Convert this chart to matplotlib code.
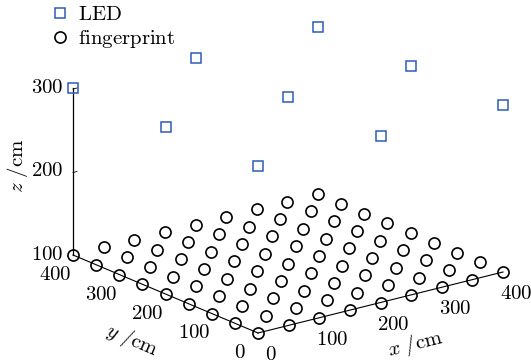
import matplotlib
matplotlib.use("Agg")
import matplotlib.pyplot as plt
import numpy as np

plt.rcParams['mathtext.fontset'] = 'cm'

# fingerprint grid and LED positions, cm
fp_x = [0, 50, 100, 150, 200, 250, 300, 350, 400]
fp_y = [0, 50, 100, 150, 200, 250, 300, 350, 400]
fp_z = 100
led_x = [0, 200, 400]
led_y = [0, 200, 400]
led_z = 300

x_ticks = [0, 100, 200, 300, 400]
y_ticks = [0, 100, 200, 300, 400]
z_ticks = [100, 200, 300]

# oblique view: pixels per cm along each axis
ORIGIN = (258.0, 333.0)
EX = (245/400., -61/400.)
EY = (-185/400., -78/400.)
EZ = -167/200.
Z0 = 100


def proj(x, y, z):
	x = np.asarray(x, float)
	y = np.asarray(y, float)
	z = np.asarray(z, float)
	px = ORIGIN[0] + x*EX[0] + y*EY[0]
	py = ORIGIN[1] + x*EX[1] + y*EY[1] + (z - Z0)*EZ
	return px, py


fig = plt.figure(figsize=(5.31, 3.63), dpi=100)
ax = fig.add_axes([0, 0, 1, 1])
ax.set_xlim(0, 531)
ax.set_ylim(363, 0)
ax.axis('off')

FS = 15

# axes lines
px, py = proj([0, 400], [0, 0], [Z0, Z0])
ax.plot(px, py, 'k-', lw=0.8, zorder=1)
px, py = proj([0, 0], [0, 400], [Z0, Z0])
ax.plot(px, py, 'k-', lw=0.8, zorder=1)
px, py = proj([0, 0], [400, 400], [Z0, 300])
ax.plot(px, py, 'k-', lw=0.9, zorder=1)

# z ticks
for z in z_ticks:
	px, py = proj(0, 400, z)
	if z > Z0:
		ax.plot([px, px + 4], [py + 1, py], 'k-', lw=0.6)
	ax.text(px - 10, py - 1, "$%d$" % z, ha='right', va='center', fontsize=FS)

for x in x_ticks:
	px, py = proj(x, 0, Z0)
	ax.text(px + 13, py + 21, "$%d$" % x, ha='center', va='center', fontsize=FS)

for y in y_ticks:
	px, py = proj(0, y, Z0)
	ax.text(px - 18, py + 19, "$%d$" % y, ha='center', va='center', fontsize=FS)

ax.text(17, 166, r"$z\ /\mathrm{cm}$", rotation=90, ha='center', va='center', fontsize=FS)
ax.text(132, 340, r"$y\ /\mathrm{cm}$", rotation=-22.9, ha='center', va='center', fontsize=FS)
ax.text(415, 344, r"$x\ /\mathrm{cm}$", rotation=14, ha='center', va='center', fontsize=FS)

# data
gx, gy = np.meshgrid(fp_x, fp_y)
px, py = proj(gx.ravel(), gy.ravel(), np.full(gx.size, fp_z))
ax.plot(px, py, 'o', ms=8, mfc='none', mec='black', mew=1.2, ls='none',
	label=r"$\mathrm{fingerprint}$", zorder=3)

lx, ly = np.meshgrid(led_x, led_y)
px, py = proj(lx.ravel(), ly.ravel(), np.full(lx.size, led_z))
ax.plot(px, py, 's', ms=6.5, mfc='none', mec='#2d5bb8', mew=1.1, ls='none',
	label=r"$\mathrm{LED}$", zorder=3)

h, l = ax.get_legend_handles_labels()
ax.legend(h[::-1], l[::-1], loc='upper left', bbox_to_anchor=(0.06, 1.04),
	frameon=False, fontsize=FS, handlelength=0.9, handletextpad=0.4,
	labelspacing=0.2)

fig.savefig("out.png", dpi=100)
